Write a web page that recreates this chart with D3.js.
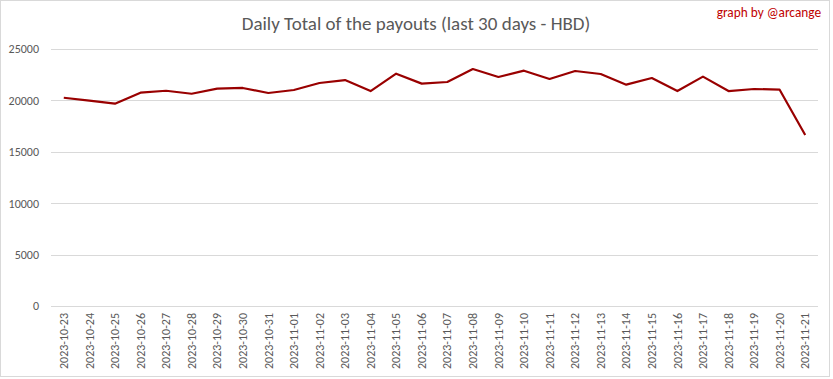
<!DOCTYPE html>
<html><head><meta charset="utf-8">
<script src="https://cdn.jsdelivr.net/npm/d3@7"></script>
<style>body{margin:0;background:#fff}svg{display:block}</style>
</head><body>
<svg id="c" width="833" height="379"></svg>
<script>
const dates = ["2023-10-23","2023-10-24","2023-10-25","2023-10-26","2023-10-27","2023-10-28","2023-10-29","2023-10-30","2023-10-31","2023-11-01","2023-11-02","2023-11-03","2023-11-04","2023-11-05","2023-11-06","2023-11-07","2023-11-08","2023-11-09","2023-11-10","2023-11-11","2023-11-12","2023-11-13","2023-11-14","2023-11-15","2023-11-16","2023-11-17","2023-11-18","2023-11-19","2023-11-20","2023-11-21"];
const payouts = [20260,19980,19680,20750,20940,20650,21140,21210,20720,21010,21690,21980,20910,22600,21630,21790,23050,22280,22890,22080,22860,22570,21530,22180,20910,22310,20910,21110,21040,16630];
const yTicks = [0,5000,10000,15000,20000,25000];
const titleText = "Daily Total of the payouts (last 30 days - HBD)";
const creditText = "graph by @arcange";

const svg = d3.select("#c");
const font = "Calibri, Carlito, 'Liberation Sans Narrow', 'Open Sans', sans-serif";
const L = 51, R = 818, T = 49, B = 306;

svg.append("rect").attr("x",0.5).attr("y",0.5).attr("width",829).attr("height",376)
  .attr("fill","#fff").attr("stroke","#d9d9d9");

const x = d3.scaleBand().domain(dates).range([L,R]);
const y = d3.scaleLinear().domain([0,25000]).range([B,T]);

// gridlines
svg.append("g").selectAll("line").data(yTicks.filter(d=>d>0)).join("line")
  .attr("x1",L).attr("x2",R).attr("y1",d=>Math.round(y(d))+0.5).attr("y2",d=>Math.round(y(d))+0.5)
  .attr("stroke","#d9d9d9").attr("stroke-width",1);

// y axis labels
const ya = svg.append("g").attr("transform",`translate(${L},0)`)
  .call(d3.axisLeft(y).tickValues(yTicks).tickSize(0).tickPadding(12).tickFormat(d3.format("d")));
ya.select(".domain").remove();
ya.selectAll("text").attr("font-family",font).attr("font-size",12).attr("fill","#595959");

// x axis
const xa = svg.append("g").attr("transform",`translate(0,${B})`)
  .call(d3.axisBottom(x).tickSize(0).tickPadding(0));
xa.select(".domain").attr("stroke","#d9d9d9").attr("d",`M${L},0.5H${R}`);
xa.selectAll("text").attr("font-family",font).attr("font-size",12).attr("fill","#595959")
  .attr("text-anchor","end").attr("dy","0.35em")
  .attr("transform","translate(0,7) rotate(-90)").attr("x",0).attr("y",0);

// line
const line = d3.line().x((d,i)=>x(dates[i])+x.bandwidth()/2).y(d=>y(d));
svg.append("path").datum(payouts).attr("d",line).attr("fill","none")
  .attr("stroke","#990000").attr("stroke-width",2.2).attr("stroke-linejoin","round");

svg.append("text").attr("x",416).attr("y",30).attr("text-anchor","middle")
  .attr("font-family",font).attr("font-size",19).attr("fill","#595959").text(titleText);
svg.append("text").attr("x",821).attr("y",17).attr("text-anchor","end")
  .attr("font-family",font).attr("font-size",13.3).attr("fill","#c00000").text(creditText);
</script>
</body></html>
